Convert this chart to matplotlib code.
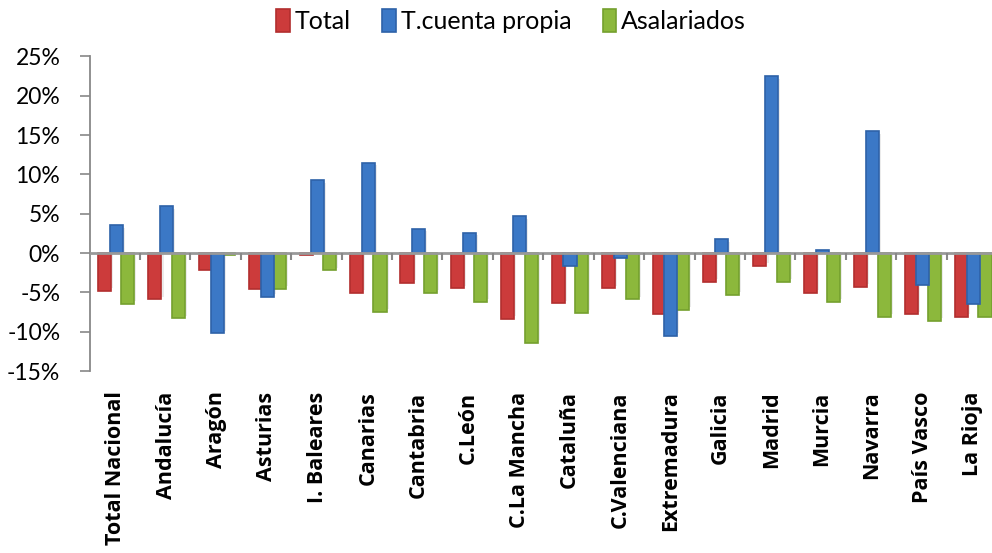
import matplotlib
matplotlib.use("Agg")
import matplotlib.pyplot as plt
import numpy as np
from matplotlib.ticker import FuncFormatter

categories = ["Total Nacional", "Andalucía", "Aragón", "Asturias", "I. Baleares",
              "Canarias", "Cantabria", "C.León", "C.La Mancha", "Cataluña",
              "C.Valenciana", "Extremadura", "Galicia", "Madrid", "Murcia",
              "Navarra", "País Vasco", "La Rioja"]
total = [-4.8, -5.9, -2.2, -4.6, -0.3, -5.1, -3.8, -4.5, -8.4, -6.4,
         -4.5, -7.8, -3.7, -1.6, -5.1, -4.3, -7.8, -8.1]
cuenta_propia = [3.6, 6.0, -10.2, -5.6, 9.3, 11.5, 3.1, 2.6, 4.7, -1.6,
                 -0.6, -10.5, 1.8, 22.5, 0.4, 15.5, -4.1, -6.5]
asalariados = [-6.5, -8.3, -0.3, -4.6, -2.2, -7.5, -5.1, -6.2, -11.4, -7.6,
               -5.9, -7.2, -5.3, -3.7, -6.2, -8.1, -8.6, -8.1]
series_names = ["Total", "T.cuenta propia", "Asalariados"]
yticks = [-15, -10, -5, 0, 5, 10, 15, 20, 25]

colors = ["#CC3B3B", "#3B78C6", "#8CB83C"]
edges = ["#B22E2E", "#2E62A8", "#74A02E"]

plt.rcParams['font.family'] = ['Lato', 'DejaVu Sans']

fig = plt.figure(figsize=(9.92, 5.53), dpi=100)
ax = fig.add_axes([89.5/992, 1 - 371/553, (997 - 89.5)/992, (371 - 56.5)/553])

x = np.arange(len(categories))
w = 0.26
step = 0.232
data = [total, cuenta_propia, asalariados]
for i, (vals, c, ec, name) in enumerate(zip(data, colors, edges, series_names)):
    pos = x + (i - 1) * step + 0.03
    ax.bar(pos + 0.04, np.array(vals) - np.sign(vals) * 0.35, width=w,
           color="#000000", alpha=0.08, zorder=1, linewidth=0)
    ax.bar(pos, vals, width=w, color=c, edgecolor=ec, linewidth=1.2,
           label=name, zorder=2 + (1 if i == 1 else 0))

ax.set_xlim(-0.5, len(categories) - 0.5)
ax.set_ylim(-15, 25)
ax.set_yticks(yticks)
ax.yaxis.set_major_formatter(FuncFormatter(lambda v, p: f"{int(v)}%"))
ax.tick_params(axis='y', length=7, width=1.2, color="#888888",
               labelsize=16.5, pad=14)
for s in ["top", "right", "bottom"]:
    ax.spines[s].set_visible(False)
ax.spines["left"].set_color("#888888")
ax.spines["left"].set_linewidth(1.3)

ax.axhline(0, color="#999999", linewidth=2, zorder=4)
ax.set_xticks([])
for b in np.arange(0.5, len(categories) - 0.5, 1.0):
    ax.plot([b, b], [0, -0.85], color="#888888", linewidth=1.5, zorder=4,
            solid_capstyle='butt')

for xi, lab in zip(x, categories):
    ax.text(xi + 0.02, -17.6, lab, rotation=90, ha="center", va="top",
            fontsize=15.5, fontweight="bold", color="black",
            family=['Open Sans', 'DejaVu Sans'])

handles, labels = ax.get_legend_handles_labels()
leg = fig.legend(handles, labels, loc="center", bbox_to_anchor=(511/992, 1 - 21/553),
                 ncol=3, frameon=False, fontsize=18, handlelength=0.55,
                 handleheight=1.0, handletextpad=0.2, columnspacing=1.25)

fig.savefig("out.png", dpi=100)
